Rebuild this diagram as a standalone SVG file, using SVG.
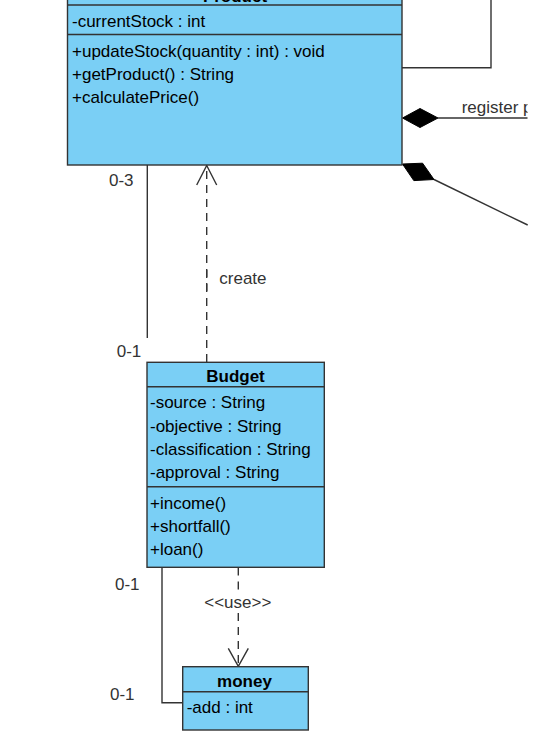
<svg xmlns="http://www.w3.org/2000/svg" width="552" height="735" viewBox="0 0 552 735">
<style>
.box{fill:#7ACFF5;stroke:#333333;stroke-width:1.4}
.sep{stroke:#333333;stroke-width:1.4;fill:none}
.t{font-family:"Liberation Sans",Arial,sans-serif;font-size:17px;fill:#000000}
.b{font-weight:bold;text-anchor:middle}
.lbl{font-family:"Liberation Sans",Arial,sans-serif;font-size:17px;fill:#333333}
.ln{stroke:#333333;stroke-width:1.4;fill:none}
.dash{stroke:#333333;stroke-width:1.4;fill:none;stroke-dasharray:8,6}
.dia{fill:#000000;stroke:#000000;stroke-width:1}
</style>
<defs>
<clipPath id="cut"><rect x="0" y="0" width="527.5" height="735"/></clipPath>
</defs>
<rect width="552" height="735" fill="#ffffff"/>
<g id="connectors">
<path class="ln" d="M491,0 V67.7 H402"/>
<path class="ln" d="M438,118 H527.5"/>
<polygon class="dia" points="402.5,118 420,108.5 438,118 420,127.5"/>
<path class="ln" d="M434,179.5 L527.7,225"/>
<polygon class="dia" points="402.5,164 422.6,163.2 434,179.5 413.8,180.6"/>
<text class="lbl" x="461.7" y="113.3" clip-path="url(#cut)">register p</text>
<path class="ln" d="M147.3,165 V338"/>
<text class="lbl" x="109" y="185.7">0-3</text>
<text class="lbl" x="116.7" y="357.3">0-1</text>
<path class="dash" d="M206.7,362 V264"/>
<path class="dash" d="M206.7,291 V166"/>
<path class="ln" d="M196.7,185 L206.7,165.5 L216.7,185"/>
<text class="lbl" x="219.3" y="284">create</text>
<path class="ln" d="M162,567 V702.7 H182.7"/>
<text class="lbl" x="115" y="589.7">0-1</text>
<text class="lbl" x="110" y="700">0-1</text>
<path class="dash" d="M238.3,567.5 V592"/>
<path class="dash" d="M238.3,613 V666"/>
<path class="ln" d="M228.3,648.3 L238.3,666.3 L248.3,648.3"/>
<text class="lbl" x="237.8" y="607.7" text-anchor="middle">&lt;&lt;use&gt;&gt;</text>
</g>
<g id="Product">
<rect class="box" x="67.5" y="-20" width="334.5" height="185"/>
<path class="sep" d="M67.5,5 H402 M67.5,34.5 H402"/>
<text class="t b" x="235" y="1.5">Product</text>
<text class="t" x="72" y="26.7">-currentStock : int</text>
<text class="t" x="72" y="56.7">+updateStock(quantity : int) : void</text>
<text class="t" x="72" y="80">+getProduct() : String</text>
<text class="t" x="72" y="103.3">+calculatePrice()</text>
</g>
<g id="Budget">
<rect class="box" x="147" y="362.3" width="177.3" height="205"/>
<path class="sep" d="M147,386.7 H324.3 M147,486.7 H324.3"/>
<text class="t b" x="235.5" y="381.7">Budget</text>
<text class="t" x="150" y="408.3">-source : String</text>
<text class="t" x="150" y="431.7">-objective : String</text>
<text class="t" x="150" y="455">-classification : String</text>
<text class="t" x="150" y="478.3">-approval : String</text>
<text class="t" x="150" y="508.7">+income()</text>
<text class="t" x="150" y="532">+shortfall()</text>
<text class="t" x="150" y="555.3">+loan()</text>
</g>
<g id="money">
<rect class="box" x="182.7" y="666.7" width="125.6" height="63.3"/>
<path class="sep" d="M182.7,691.7 H308.3"/>
<text class="t b" x="244.5" y="686.7">money</text>
<text class="t" x="186.7" y="712.7">-add : int</text>
</g>
</svg>
